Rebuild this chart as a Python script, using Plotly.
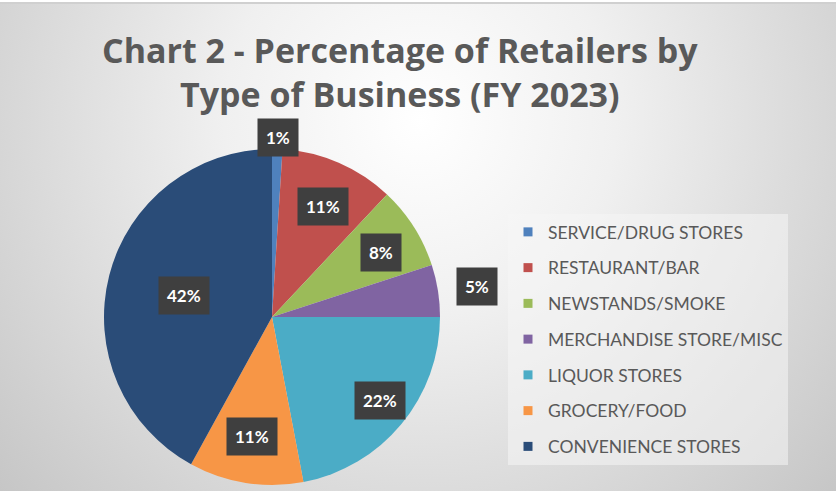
import math
import plotly.graph_objects as go

# ---- data ----
labels = ["SERVICE/DRUG STORES", "RESTAURANT/BAR", "NEWSTANDS/SMOKE",
          "MERCHANDISE STORE/MISC", "LIQUOR STORES", "GROCERY/FOOD",
          "CONVENIENCE STORES"]
values = [1, 11, 8, 5, 22, 11, 42]
colors = ["#4F81BD", "#C0504D", "#9BBB59", "#8064A2", "#4BACC6", "#F79646", "#2A4C78"]
title_text = "Chart 2 - Percentage of Retailers by<br>Type of Business (FY 2023)"

W, H = 836, 491
FONT = "Lato"

# pie placement (pixels)
pcx, pcy, pr = 272, 317, 168
dom_x = [(pcx - pr) / W, (pcx + pr) / W]
dom_y = [1 - (pcy + pr) / H, 1 - (pcy - pr) / H]

fig = go.Figure()
fig.add_trace(go.Pie(
    labels=labels, values=values, sort=False, direction="clockwise", rotation=0,
    marker=dict(colors=colors, line=dict(width=0)),
    textinfo="none", hoverinfo="label+percent", showlegend=False,
    domain=dict(x=dom_x, y=dom_y),
))

# legend entries
for lab, col in zip(labels, colors):
    fig.add_trace(go.Scatter(
        x=[None], y=[None], mode="markers", name=lab, legendgroup=lab,
        marker=dict(symbol="square", size=9, color=col),
    ))

# data labels computed from cumulative shares
total = sum(values)
cum = 0
annotations = []
for v in values:
    mid = (cum + v / 2) / total * 2 * math.pi
    cum += v
    share = v / total
    if share < 0.06:
        rf = 1.1 if share < 0.02 else 1.19
    elif share > 0.3:
        rf = 0.52
    elif share > 0.15:
        rf = 0.8
    else:
        rf = 0.74
    px = pcx + rf * pr * 1.04 * math.sin(mid)
    py = pcy - rf * pr * 0.97 * math.cos(mid)
    annotations.append(dict(
        x=px / W, y=1 - py / H, xref="paper", yref="paper",
        text=f"<b>{round(share*100)}%</b>", showarrow=False,
        xanchor="center", yanchor="middle", borderpad=8,
        bgcolor="#3F3F3F", font=dict(family=FONT, size=17, color="#FFFFFF"),
    ))

# title
annotations.append(dict(
    x=400 / W, y=1 - 25 / H, xref="paper", yref="paper", xanchor="center", yanchor="top",
    text=f"<b>{title_text}</b>", showarrow=False,
    font=dict(family="Open Sans", size=34, color="#595959"),
))

bg_svg = (
    "data:image/svg+xml;utf8,"
    "<svg xmlns='http://www.w3.org/2000/svg' width='836' height='491'>"
    "<defs><radialGradient id='g' gradientUnits='userSpaceOnUse' cx='420' cy='120' r='560'>"
    "<stop offset='0' stop-color='%23ffffff'/><stop offset='0.35' stop-color='%23f0f0f0'/>"
    "<stop offset='1' stop-color='%23c6c6c6'/></radialGradient></defs>"
    "<rect width='836' height='491' fill='url(%23g)'/>"
    "<rect x='0' y='0' width='836' height='2' fill='%23ffffff'/>"
    "<rect x='0' y='2' width='836' height='2' fill='%23d0d0d0'/>"
    "</svg>"
)

fig.update_layout(
    width=W, height=H,
    margin=dict(l=0, r=0, t=0, b=0),
    paper_bgcolor="#e0e0e0", plot_bgcolor="rgba(0,0,0,0)",
    images=[dict(source=bg_svg, xref="paper", yref="paper", x=0, y=1,
                 sizex=1, sizey=1, xanchor="left", yanchor="top",
                 sizing="stretch", layer="below")],
    xaxis=dict(visible=False), yaxis=dict(visible=False),
    legend=dict(x=508 / W, y=1 - 214 / H, xanchor="left", yanchor="top",
                bgcolor="rgba(245,245,245,0.55)", tracegroupgap=10,
                font=dict(family=FONT, size=17.5, color="#595959"),
                itemclick=False),
    annotations=annotations,
)

fig.write_html("out.html", config={"displayModeBar": False},
               post_script="document.body.style.margin='0';document.body.style.overflow='hidden';")
